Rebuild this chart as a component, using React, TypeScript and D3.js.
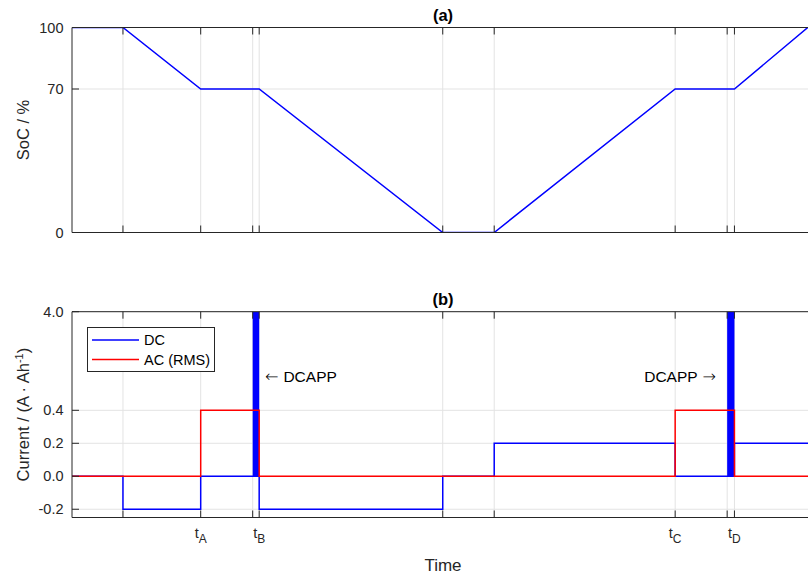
import React from "react";
import * as d3 from "d3";

// ---- data (time in hours) ----
const tickTimes = [0.98, 2.475, 3.475, 3.6, 7.13, 8.12, 11.6, 12.6, 12.74];
const tickLabelMain = ["", "t", "", "t", "", "", "t", "", "t"];
const tickLabelSub = ["", "A", "", "B", "", "", "C", "", "D"];

const socTime = [0, 0.98, 2.475, 3.6, 7.13, 8.12, 11.6, 12.74, 14.15];
const socValue = [100, 100, 70, 70, 0, 0, 70, 70, 100];
const socTicks = [0, 70, 100];

const dcTime = [0, 0.98, 2.475, 3.475, 3.6, 7.13, 8.12, 11.6, 12.6, 12.74, 14.3];
const dcValue = [0, -0.2, 0, 0, -0.2, 0, 0.2, 0, 0, 0.2, 0.2];

const acTime = [0, 2.475, 3.6, 11.6, 12.74, 14.3];
const acValue = [0, 0.4, 0, 0.4, 0, 0];

const dcappStart = [3.475, 12.6];
const dcappEnd = [3.6, 12.74];
const dcappPeak = 4.0;

const currentTicks = [-0.2, 0, 0.2, 0.4, 4.0];
const currentTickLabels = ["-0.2", "0.0", "0.2", "0.4", "4.0"];

const FONT = "'Liberation Sans', Arial, Helvetica, sans-serif";
const ARROWFONT = "'DejaVu Sans', sans-serif";
const AX = "#262626";
const GRID = "#e3e3e3";

export default function App() {
  const W = 808, H = 581;
  const left = 72, right = 814;
  const x = d3.scaleLinear().domain([0, 14.27]).range([left, right]);

  const topY0 = 27.5, topY1 = 232.5;
  const yA = d3.scaleLinear().domain([0, 100]).range([topY1, topY0]);

  const botY0 = 311.7, botY1 = 517.5;
  const yB = d3.scaleLinear().domain([-0.25, 0.4, 4.0]).range([botY1, 410.3, botY0]);

  const socLine = d3.line<number>().x((_, i) => x(socTime[i])).y((d) => yA(d));
  const dcLine = d3.line<number>().x((_, i) => x(dcTime[i])).y((d) => yB(d)).curve(d3.curveStepAfter);
  const acLine = d3.line<number>().x((_, i) => x(acTime[i])).y((d) => yB(d)).curve(d3.curveStepAfter);

  const tickLen = 7;

  const frame = (y0: number, y1: number) => (
    <g>
      <line x1={left} x2={right} y1={y0} y2={y0} stroke={AX} strokeWidth={1} />
      <line x1={left} x2={right} y1={y1} y2={y1} stroke={AX} strokeWidth={1} />
      <line x1={left} x2={left} y1={y0} y2={y1} stroke={AX} strokeWidth={1} />
      {tickTimes.map((t, i) => (
        <g key={i}>
          <line x1={x(t)} x2={x(t)} y1={y0} y2={y0 + tickLen} stroke={AX} strokeWidth={1} />
          <line x1={x(t)} x2={x(t)} y1={y1} y2={y1 - tickLen} stroke={AX} strokeWidth={1} />
        </g>
      ))}
    </g>
  );

  const vgrid = (y0: number, y1: number) =>
    tickTimes.map((t, i) => (
      <line key={i} x1={x(t)} x2={x(t)} y1={y0} y2={y1} stroke={GRID} strokeWidth={1} />
    ));

  return (
    <svg
      width={W}
      height={H}
      style={{ position: "absolute", left: 0, top: 0, display: "block", background: "#fff" }}
      fontFamily={FONT}
    >
      <defs>
        <clipPath id="clipA">
          <rect x={left} y={topY0} width={right - left} height={topY1 - topY0} />
        </clipPath>
        <clipPath id="clipB">
          <rect x={left} y={botY0} width={right - left} height={botY1 - botY0} />
        </clipPath>
      </defs>
      <rect x={0} y={0} width={W} height={H} fill="#fff" />

      {/* ---------- (a) ---------- */}
      <g>
        {vgrid(topY0, topY1)}
        {socTicks.map((v) => (
          <line key={v} x1={left} x2={right} y1={yA(v)} y2={yA(v)} stroke={GRID} strokeWidth={1} />
        ))}
        <path d={socLine(socValue) || ""} fill="none" stroke="#0000ff" strokeWidth={1.5} clipPath="url(#clipA)" />
        {frame(topY0, topY1)}
        {socTicks.map((v) => (
          <g key={v}>
            <line x1={left} x2={left + tickLen} y1={yA(v)} y2={yA(v)} stroke={AX} strokeWidth={1} />
            <text x={63.5} y={yA(v)} dy="0.35em" textAnchor="end" fontSize={14.5} fill={AX}>
              {v}
            </text>
          </g>
        ))}
        <text x={(left + right) / 2} y={20.5} textAnchor="middle" fontSize={16.5} fontWeight="bold" fill="#000">
          (a)
        </text>
        <text
          transform={`translate(29,${(topY0 + topY1) / 2}) rotate(-90)`}
          textAnchor="middle"
          fontSize={16.5}
          fill={AX}
        >
          SoC / %
        </text>
      </g>

      {/* ---------- (b) ---------- */}
      <g>
        {vgrid(botY0, botY1)}
        {currentTicks.map((v) => (
          <line key={v} x1={left} x2={right} y1={yB(v)} y2={yB(v)} stroke={GRID} strokeWidth={1} />
        ))}
        <g clipPath="url(#clipB)">
          <path d={dcLine(dcValue) || ""} fill="none" stroke="#0000ff" strokeWidth={1.5} />
          {dcappStart.map((s, i) => (
            <rect
              key={i}
              x={x(s)}
              y={yB(dcappPeak)}
              width={x(dcappEnd[i]) - x(s)}
              height={yB(0) - yB(dcappPeak)}
              fill="#0000ff"
            />
          ))}
          <path d={acLine(acValue) || ""} fill="none" stroke="#ff0000" strokeWidth={1.5} />
        </g>
        {frame(botY0, botY1)}
        {currentTicks.map((v, i) => (
          <g key={v}>
            <line x1={left} x2={left + tickLen} y1={yB(v)} y2={yB(v)} stroke={AX} strokeWidth={1} />
            <text x={63.5} y={yB(v)} dy="0.35em" textAnchor="end" fontSize={14.5} fill={AX}>
              {currentTickLabels[i]}
            </text>
          </g>
        ))}
        {tickTimes.map((t, i) =>
          tickLabelMain[i] ? (
            <text key={i} x={x(t)} y={538} textAnchor="middle" fontSize={14.5} fill={AX}>
              {tickLabelMain[i]}
              <tspan dy={5} fontSize={12}>
                {tickLabelSub[i]}
              </tspan>
            </text>
          ) : null
        )}
        <text x={(left + right) / 2} y={304.5} textAnchor="middle" fontSize={16.5} fontWeight="bold" fill="#000">
          (b)
        </text>
        <text
          transform={`translate(29,${(botY0 + botY1) / 2}) rotate(-90)`}
          textAnchor="middle"
          fontSize={16.5}
          fill={AX}
        >
          Current / (A · Ah
          <tspan dy={-6} fontSize={11}>
            -1
          </tspan>
          <tspan dy={6}>)</tspan>
        </text>
        <text x={(left + right) / 2} y={571} textAnchor="middle" fontSize={17} fill={AX}>
          Time
        </text>

        {/* annotations */}
        <text x={265} y={381.5} fontSize={15.5} fill="#000">
          <tspan fontFamily={ARROWFONT} fontSize={16} fontWeight={200}>←</tspan>
          <tspan dx={5}>DCAPP</tspan>
        </text>
        <text x={716} y={381.5} textAnchor="end" fontSize={15.5} fill="#000">
          DCAPP
          <tspan dx={5} fontFamily={ARROWFONT} fontSize={16} fontWeight={200}>→</tspan>
        </text>

        {/* legend */}
        <g>
          <rect x={87.5} y={327.5} width={127} height={44} fill="#fff" stroke={AX} strokeWidth={1} />
          <line x1={92} x2={139} y1={340} y2={340} stroke="#0000ff" strokeWidth={1.5} />
          <text x={144} y={340} dy="0.35em" fontSize={14.5} fill="#000">
            DC
          </text>
          <line x1={92} x2={139} y1={359.5} y2={359.5} stroke="#ff0000" strokeWidth={1.5} />
          <text x={144} y={359.5} dy="0.35em" fontSize={14.5} fill="#000">
            AC (RMS)
          </text>
        </g>
      </g>
    </svg>
  );
}
